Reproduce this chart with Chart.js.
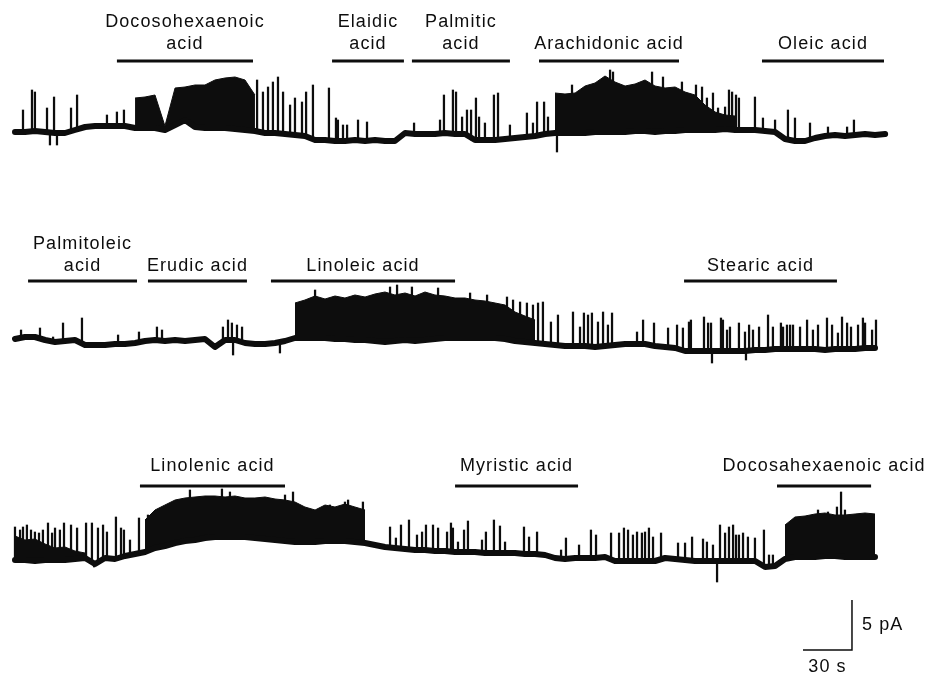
<!DOCTYPE html>
<html>
<head>
<meta charset="utf-8">
<title>Fatty acid effects on channel activity</title>
<script src="https://cdn.jsdelivr.net/npm/chart.js"></script>
<style>
  html, body { margin: 0; padding: 0; background: #fff; }
  #wrap { width: 925px; height: 675px; position: relative; }
</style>
</head>
<body>
<div id="wrap"><canvas id="trace-chart"></canvas></div>
<script>
// sample times of the closed-level / burst envelope readings (s)
const sampleTimes = [0, 6.1, 12.2, 18.4, 24.5, 30.6, 36.7, 42.9, 49.0, 55.1,
  61.2, 67.3, 73.5, 79.6, 85.7, 91.8, 98.0, 104.1, 110.2, 116.3,
  122.4, 128.6, 134.7, 140.8, 146.9, 153.1, 159.2, 165.3, 171.4, 177.5,
  183.7, 189.8, 195.9, 202.0, 208.1, 214.3, 220.4, 226.5, 232.6, 238.8,
  244.9, 251.0, 257.1, 263.2, 269.4, 275.5, 281.6, 287.7, 293.9, 300.0,
  306.1, 312.2, 318.4, 324.5, 330.6, 336.7, 342.9, 349.0, 355.1, 361.2,
  367.3, 373.5, 379.6, 385.7, 391.8, 398.0, 404.1, 410.2, 416.3, 422.4,
  428.6, 434.7, 440.8, 446.9, 453.1, 459.2, 465.3, 471.4, 477.5, 483.7,
  489.8, 495.9, 502.0, 508.1, 514.3, 520.4, 526.5, 532.7];

// ---- trace 1 (pA, relative to starting closed level)
const base1 = [-0.1, -0.1, 0, -0.1, -0.2, -0.2, 0.1, 0.4, 0.5, 0.5,
  0.5, 0.5, 0.3, 0.3, 0.3, 0.1, 0.6, 1.1, 0.4, 0.3,
  0.3, 0.3, 0.2, 0.1, 0, -0.2, -0.2, -0.3, -0.4, -0.5,
  -0.9, -0.9, -1.0, -1.0, -0.9, -1.0, -0.9, -1.0, -1.0, -0.2,
  -0.3, -0.3, -0.3, -0.2, -0.3, -0.3, -0.9, -0.9, -0.9, -0.8,
  -0.7, -0.6, -0.5, -0.3, -0.2, -0.2, -0.2, -0.2, -0.1, -0.1,
  -0.1, -0.1, 0, 0, -0.1, 0, 0, 0.1, 0.1, 0.1,
  0.1, 0.2, 0.1, 0.1, 0.1, 0, -0.1, -0.8, -1.0, -1.0,
  -0.7, -0.5, -0.4, -0.5, -0.4, -0.3, -0.4, -0.3];
const burst1 = [null, null, null, null, null, null, null, null, null, null,
  null, null, 3.3, 3.4, 3.6, 0.5, 4.3, 4.4, 4.6, 4.6,
  5.1, 5.3, 5.4, 5.1, 3.6, null, null, null, null, null,
  null, null, null, null, null, null, null, null, null, null,
  null, null, null, null, null, null, null, null, null, null,
  null, null, null, null, 3.8, 3.7, 3.8, 4.5, 4.8, 5.5,
  4.9, 4.5, 4.7, 5.1, 4.5, 4.3, 4.4, 3.9, 3.6, 2.6,
  1.9, 1.6, 1.5, null, null, null, null, null, null, null,
  null, null, null, null, null, null, null, null];
const spikeTimes1 = [4.9, 10.4, 12.2, 19.6, 21.4, 23.9, 25.7, 34.3, 38.0, 56.3,
  62.4, 66.7, 148.2, 151.8, 154.9, 157.9, 161.0, 164.1, 168.4, 171.4,
  175.7, 178.2, 182.4, 192.2, 196.5, 197.7, 200.8, 203.3, 210.0, 215.5,
  244.3, 260.2, 262.6, 268.1, 270.0, 273.7, 276.7, 279.2, 282.2, 284.1,
  287.7, 293.2, 295.7, 303.0, 313.4, 317.1, 319.6, 323.9, 326.3, 331.8,
  341.0, 364.3, 366.1, 390.0, 396.7, 408.3, 416.9, 420.6, 423.6, 427.3,
  430.4, 434.7, 437.1, 439.0, 441.4, 443.2, 453.0, 457.9, 465.3, 473.2,
  477.5, 486.7, 497.7, 509.4, 513.6];
const spikePeaks1 = [2.1, 4.1, 3.9, 2.3, -1.4, 3.4, -1.4, 2.3, 3.6, 1.6,
  1.9, 2.1, 5.1, 3.9, 4.4, 4.9, 5.4, 3.9, 2.6, 3.3,
  2.9, 3.9, 4.6, 4.3, 1.3, 1.1, 0.6, 0.6, 1.1, 0.9,
  0.8, 1.1, 3.6, 4.1, 3.9, 1.4, 2.1, 2.1, 3.3, 1.4,
  0.8, 3.6, 3.8, 0.6, 1.8, 0.8, 2.9, 2.9, 1.4, -2.1,
  4.6, 6.1, 5.9, 5.9, 5.4, 4.9, 4.6, 4.4, 3.3, 3.8,
  2.3, 2.4, 4.1, 3.9, 3.6, 3.3, 3.4, 1.3, 1.1, 2.1,
  1.3, 0.8, 0.4, 0.4, 1.1];
const acids1 = ['Docosohexaenoic\nacid', 'Elaidic\nacid', 'Palmitic\nacid', 'Arachidonic acid', 'Oleic acid'];
const acidStart1 = [62.4, 194.1, 243.0, 320.8, 457.3];
const acidEnd1 = [145.7, 238.1, 303.0, 406.5, 532.0];

// ---- trace 2
const base2 = [0.1, 0.3, 0.3, 0, -0.2, -0.1, 0, -0.5, -0.5, -0.5,
  -0.4, -0.4, -0.3, -0.1, 0, -0.1, 0, -0.1, 0, 0.1,
  -0.7, 0, 0, -0.3, -0.4, -0.4, -0.3, -0.1, 0.2, 0.2,
  0.2, 0.2, 0.1, 0.1, 0, 0, -0.1, -0.2, -0.1, 0,
  -0.1, 0, 0.1, 0.2, 0.2, 0.2, 0.2, 0.2, 0.2, 0.1,
  -0.1, -0.2, -0.3, -0.4, -0.5, -0.6, -0.6, -0.6, -0.7, -0.6,
  -0.5, -0.4, -0.4, -0.4, -0.6, -0.7, -0.8, -1.1, -1.1, -1.1,
  -1.1, -1.1, -1.1, -1.1, -1.0, -1.0, -0.9, -0.9, -0.9, -0.9,
  -0.9, -1.0, -0.9, -0.9, -0.9, -0.8, -0.8, null];
const burst2 = [null, null, null, null, null, null, null, null, null, null,
  null, null, null, null, null, null, null, null, null, null,
  null, null, null, null, null, null, null, null, 3.7, 4.0,
  4.4, 4.1, 4.4, 4.2, 4.5, 4.3, 4.6, 4.8, 4.5, 4.7,
  4.4, 4.8, 4.5, 4.4, 4.2, 4.2, 4.0, 3.9, 3.7, 3.5,
  2.8, 2.4, 2.0, null, null, null, null, null, null, null,
  null, null, null, null, null, null, null, null, null, null,
  null, null, null, null, null, null, null, null, null, null,
  null, null, null, null, null, null, null, null];
const spikeTimes2 = [3.7, 15.3, 23.3, 29.4, 41.0, 63.1, 75.9, 86.9, 90.0, 127.3,
  130.4, 132.8, 133.5, 135.9, 139.0, 162.2, 183.7, 229.6, 233.9, 243.0,
  259.0, 278.6, 289.0, 301.2, 304.9, 309.2, 313.4, 317.1, 320.2, 323.2,
  328.1, 332.4, 341.6, 345.9, 348.3, 350.8, 353.2, 356.9, 360.0, 363.0,
  365.5, 380.8, 384.5, 391.2, 399.8, 405.3, 408.9, 412.6, 413.8, 421.8,
  424.3, 426.1, 426.7, 432.2, 433.4, 435.9, 437.7, 443.2, 446.9, 447.5,
  449.4, 451.8, 455.5, 461.0, 464.0, 468.9, 470.2, 472.6, 474.5, 476.3,
  480.6, 484.9, 488.5, 491.6, 497.1, 500.2, 503.8, 506.3, 509.4, 511.8,
  516.1, 519.1, 520.4, 524.7, 527.1];
const spikePeaks2 = [1.0, 1.2, 0.3, 1.7, 2.2, 0.5, 0.8, 1.3, 1.0, 1.3,
  2.0, 1.7, -1.5, 1.5, 1.3, -1.3, 5.0, 5.3, 5.5, 5.3,
  5.2, 4.7, 4.5, 4.3, 4.0, 3.8, 3.7, 3.5, 3.7, 3.8,
  1.8, 2.5, 2.8, 1.3, 2.7, 2.5, 2.7, 1.8, 2.8, 1.5,
  2.7, 0.8, 2.0, 1.7, 1.2, 1.5, 1.2, 1.8, 2.0, 2.3,
  1.7, 1.7, -2.3, 2.2, 2.0, 1.0, 1.3, 1.7, 0.8, -2.0,
  1.5, 1.0, 1.3, 2.5, 1.3, 1.7, 1.3, 1.5, 1.5, 1.5,
  1.3, 2.0, 1.0, 1.5, 2.2, 1.5, 0.7, 2.3, 1.7, 1.3,
  1.5, 2.2, 1.7, 1.0, 2.0];
const acids2 = ['Palmitoleic\nacid', 'Erudic acid', 'Linoleic acid', 'Stearic acid'];
const acidStart2 = [8.0, 81.4, 156.7, 409.6];
const acidEnd2 = [74.7, 142.0, 269.4, 503.2];

// ---- trace 3
const base3 = [0, 0, -0.1, 0, 0, 0, 0.1, 0.2, -0.4, 0.2,
  0.1, 0.4, 0.6, 0.8, 1.2, 1.4, 1.7, 1.9, 2.0, 2.2,
  2.3, 2.3, 2.3, 2.3, 2.2, 2.1, 2.0, 1.9, 1.8, 1.8,
  1.8, 1.9, 1.9, 1.9, 1.8, 1.7, 1.5, 1.3, 1.2, 1.1,
  1.0, 1.0, 0.9, 0.9, 0.8, 0.8, 0.8, 0.7, 0.7, 0.7,
  0.7, 0.6, 0.6, 0.5, 0.2, 0.1, 0.2, 0.2, 0.2, 0.3,
  -0.1, -0.1, -0.1, -0.1, -0.1, 0.2, 0.1, 0, -0.1, -0.1,
  -0.1, -0.1, -0.1, -0.1, -0.1, -0.7, -0.6, 0.1, 0.3, 0.3,
  0.3, 0.4, 0.4, 0.3, 0.3, 0.3, 0.3, null];
const burst3 = [2.4, 2.0, 2.1, 1.6, 1.2, 1.3, 0.9, 0.7, null, null,
  null, null, null, 4.0, 5.0, 5.5, 6.0, 6.2, 6.3, 6.4,
  6.4, 6.3, 6.4, 6.2, 6.2, 6.3, 6.1, 6.0, 5.8, 5.3,
  5.0, 5.5, 5.3, 5.6, 5.3, 5.0, null, null, null, null,
  null, null, null, null, null, null, null, null, null, null,
  null, null, null, null, null, null, null, null, null, null,
  null, null, null, null, null, null, null, null, null, null,
  null, null, null, null, null, null, null, 3.5, 4.3, 4.4,
  4.6, 4.7, 4.5, 4.5, 4.6, 4.7, 4.6, null];
const spikeTimes3 = [0, 3.1, 4.9, 7.3, 9.8, 12.2, 14.7, 17.1, 20.2, 22.7,
  24.5, 27.5, 30.0, 34.3, 38.0, 43.5, 47.1, 48.4, 50.8, 53.9,
  56.3, 61.8, 64.9, 66.7, 70.4, 75.9, 81.4, 83.9, 107.1, 126.7,
  131.6, 165.3, 170.2, 192.8, 202.0, 203.9, 213.0, 229.6, 233.2, 236.3,
  241.2, 246.1, 249.2, 251.6, 255.9, 259.0, 264.5, 266.9, 268.1, 271.2,
  274.9, 277.3, 285.9, 288.3, 293.2, 296.9, 300.0, 311.6, 314.7, 319.6,
  334.3, 337.3, 345.3, 352.6, 355.7, 364.9, 369.8, 372.8, 375.3, 378.3,
  380.8, 383.8, 385.7, 388.1, 390.6, 395.5, 405.9, 410.2, 414.5, 421.2,
  423.6, 427.3, 429.8, 431.6, 434.7, 437.1, 439.6, 441.4, 443.2, 445.7,
  448.7, 453.0, 458.5, 461.6, 464.0, 491.6, 497.7, 503.2, 505.7, 508.1];
const spikePeaks3 = [3.3, 3.0, 3.3, 3.5, 3.0, 2.8, 2.7, 3.0, 3.7, 2.7,
  3.2, 3.0, 3.7, 3.5, 3.2, 3.7, 3.7, -0.7, 3.2, 3.5,
  2.8, 4.3, 3.2, 3.0, 2.0, 4.2, 4.5, 4.3, 7.0, 7.1,
  6.8, 6.5, 6.8, 5.5, 5.8, 6.0, 5.8, 3.3, 2.2, 3.5,
  4.0, 2.5, 2.8, 3.5, 3.5, 3.2, 2.8, 3.7, 3.2, 1.8,
  3.0, 3.9, 2.0, 2.8, 4.0, 3.4, 1.8, 3.3, 2.3, 2.8,
  1.0, 2.2, 1.5, 3.0, 2.5, 2.7, 2.7, 3.2, 3.0, 2.5,
  2.8, 2.7, 2.8, 3.2, 2.3, 2.7, 1.7, 1.7, 2.3, 2.1,
  1.8, 1.5, -2.2, 3.5, 2.7, 3.3, 3.5, 2.5, 2.5, 2.7,
  2.3, 2.2, 3.0, 0.5, 0.5, 5.0, 4.8, 5.3, 6.8, 5.0];
const acids3 = ['Linolenic acid', 'Myristic acid', 'Docosahexaenoic acid'];
const acidStart3 = [76.5, 269.4, 466.5];
const acidEnd3 = [165.3, 344.7, 524.1];

// calibration bar
const calTime = 30;   // s
const calCurrent = 5; // pA

// ---- layout (positions only)
const ink = '#0d0d0d';
const traces = [
  { base: base1, burst: burst1, st: spikeTimes1, sp: spikePeaks1, names: acids1, start: acidStart1, end: acidEnd1, offset: 54.4, barLevel: 7.0, textLevel: 8.7 },
  { base: base2, burst: burst2, st: spikeTimes2, sp: spikePeaks2, names: acids2, start: acidStart2, end: acidEnd2, offset: 33.5, barLevel: 5.9, textLevel: 7.4 },
  { base: base3, burst: burst3, st: spikeTimes3, sp: spikePeaks3, names: acids3, start: acidStart3, end: acidEnd3, offset: 11.5, barLevel: 7.4, textLevel: 9.4 }
];
const calCorner = { x: 512.4, y: 2.5 };

function nearestSample(t) {
  let best = 0;
  sampleTimes.forEach((s, i) => {
    if (Math.abs(s - t) < Math.abs(sampleTimes[best] - t)) best = i;
  });
  return best;
}

const datasets = [];
traces.forEach(tr => {
  datasets.push({
    type: 'line',
    data: sampleTimes.map((t, i) => ({ x: t, y: tr.base[i] === null ? null : tr.base[i] + tr.offset })),
    borderColor: ink, borderWidth: 6, pointRadius: 0, fill: false,
    borderJoinStyle: 'round', borderCapStyle: 'round'
  });
  datasets.push({
    type: 'line',
    data: sampleTimes.map((t, i) => ({ x: t, y: tr.burst[i] === null ? null : tr.burst[i] + tr.offset })),
    borderColor: ink, backgroundColor: ink, borderWidth: 1, pointRadius: 0, fill: '-1'
  });
  datasets.push({
    type: 'bar',
    data: tr.st.map((t, i) => {
      const k = nearestSample(t);
      const b = tr.base[k] === null ? tr.base[k - 1] : tr.base[k];
      return { x: t, y: [b + tr.offset, tr.sp[i] + tr.offset] };
    }),
    backgroundColor: ink, barThickness: 1.6, grouped: false
  });
  // application bars
  tr.names.forEach((n, i) => {
    datasets.push({
      type: 'line',
      data: [{ x: tr.start[i], y: tr.offset + tr.barLevel }, { x: tr.end[i], y: tr.offset + tr.barLevel }],
      borderColor: ink, borderWidth: 3, pointRadius: 0, fill: false
    });
  });
});
datasets.push({
  type: 'line',
  data: [{ x: calCorner.x - calTime, y: calCorner.y }, { x: calCorner.x, y: calCorner.y }, { x: calCorner.x, y: calCorner.y + calCurrent }],
  borderColor: ink, borderWidth: 1.5, pointRadius: 0, fill: false
});

const textPlugin = {
  id: 'acidText',
  afterDatasetsDraw(chart) {
    const { ctx, scales: { x, y } } = chart;
    ctx.save();
    ctx.fillStyle = ink;
    ctx.font = '18px "Liberation Sans", Arial, sans-serif';
    if ('letterSpacing' in ctx) ctx.letterSpacing = '1.1px';
    ctx.textAlign = 'center';
    ctx.textBaseline = 'middle';
    traces.forEach(tr => {
      tr.names.forEach((name, i) => {
        const cx = x.getPixelForValue((tr.start[i] + tr.end[i]) / 2);
        const yLast = y.getPixelForValue(tr.offset + tr.textLevel);
        const lines = name.split('\n');
        lines.forEach((ln, j) => ctx.fillText(ln, cx, yLast - (lines.length - 1 - j) * 22));
      });
    });
    // calibration labels
    ctx.textAlign = 'left';
    ctx.fillText(calCurrent + ' pA', x.getPixelForValue(calCorner.x) + 10, y.getPixelForValue(calCorner.y + calCurrent / 2));
    ctx.textAlign = 'center';
    ctx.fillText(calTime + ' s', x.getPixelForValue(calCorner.x - calTime / 2), y.getPixelForValue(calCorner.y) + 17);
    ctx.restore();
  }
};

new Chart(document.querySelector('#trace-chart').getContext('2d'), {
  type: 'line',
  data: { datasets: datasets },
  options: {
    responsive: true,
    maintainAspectRatio: false,
    animation: false,
    events: [],
    layout: { padding: 0 },
    plugins: { legend: { display: false }, tooltip: { enabled: false } },
    scales: {
      x: { type: 'linear', display: false, min: -9.18, max: 557.1, offset: false },
      y: { type: 'linear', display: false, min: 0, max: 67.5 }
    }
  },
  plugins: [textPlugin]
});
</script>
</body>
</html>
